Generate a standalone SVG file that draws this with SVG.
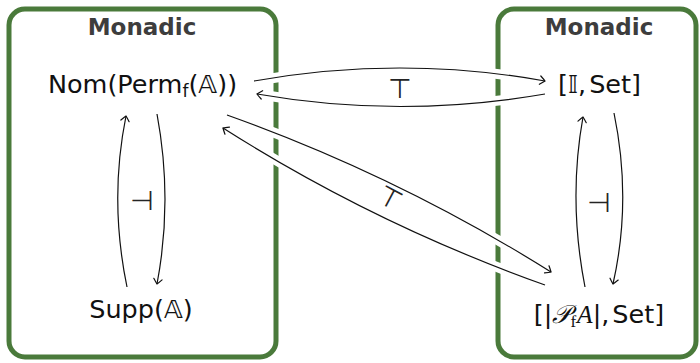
<svg xmlns="http://www.w3.org/2000/svg" width="700" height="363" viewBox="0 0 700 363">
<defs>
<style>
.box{fill:none;stroke:#4a7a3b;stroke-width:5}
.title{font-family:"DejaVu Sans",sans-serif;font-weight:bold;font-size:23px;fill:#3d3d3d;text-anchor:middle}
.lbl{font-family:"DejaVu Sans","Liberation Sans",sans-serif;font-size:25.5px;fill:#111;text-anchor:middle}
.sym{font-family:"DejaVu Sans",sans-serif;font-size:27px;fill:#222;text-anchor:middle;dominant-baseline:central;opacity:0.99}
.halo{fill:none;stroke:#fff;stroke-width:10}
.arr{fill:none;stroke:#111;stroke-width:1.2}
.head{marker-end:url(#to)}
</style>
<marker id="to" markerWidth="12" markerHeight="12" refX="0" refY="0" viewBox="-7 -6 9 12" orient="auto" markerUnits="userSpaceOnUse">
<path d="M -5,-4.2 Q -1.2,-1.2 0,0 Q -1.2,1.2 -5,4.2" fill="none" stroke="#111" stroke-width="1.2" stroke-linecap="round"/>
</marker>
</defs>

<g id="monadic-left">
<rect class="box" x="9" y="9" width="267" height="348" rx="16"/>
<text class="title" x="142" y="35">Monadic</text>
</g>
<g id="monadic-right">
<rect class="box" x="498" y="9" width="198" height="348" rx="16"/>
<text class="title" x="599" y="35">Monadic</text>
</g>

<g id="connectors">
<path class="halo" d="M 254,81 Q 400,55 545,81"/>
<path class="halo" d="M 545,94 Q 400,119 257,94"/>
<path class="halo" d="M 227,115 Q 398,176 551,272"/>
<path class="halo" d="M 545,285 Q 374,224 223,128"/>
<path class="halo" d="M 127,287 Q 109,200 126,116"/>
<path class="halo" d="M 157,114 Q 173,200 157,284"/>
<path class="halo" d="M 585,287 Q 568,200 583,117"/>
<path class="halo" d="M 614,113 Q 632,200 613,284"/>

<path class="arr head" d="M 254,81 Q 400,55 545,81"/>
<path class="arr head" d="M 545,94 Q 400,119 257,94"/>
<path class="arr head" d="M 227,115 Q 398,176 551,272"/>
<path class="arr head" d="M 545,285 Q 374,224 223,128"/>
<path class="arr head" d="M 127,287 Q 109,200 126,116"/>
<path class="arr head" d="M 157,114 Q 173,200 157,284"/>
<path class="arr head" d="M 585,287 Q 568,200 583,117"/>
<path class="arr head" d="M 614,113 Q 632,200 613,284"/>

<text class="sym" x="400" y="88">⊤</text>
<text class="sym" x="390" y="198" transform="rotate(28 390 198)">⊤</text>
<text class="sym" x="142" y="200">⊣</text>
<text class="sym" x="599" y="202">⊣</text>
</g>

<g id="nom">
<text class="lbl" x="142.5" y="93">Nom(Perm<tspan font-size="17" dy="4">f</tspan><tspan dy="-4">(𝔸))</tspan></text>
</g>
<g id="functors-I">
<text class="lbl" x="599.5" y="93">[𝕀,<tspan dx="3">Set]</tspan></text>
</g>
<g id="supp">
<text class="lbl" x="141" y="318">Supp(𝔸)</text>
</g>
<g id="functors-PfA">
<text class="lbl" x="599" y="323">[|<tspan font-family="Liberation Serif, serif" font-style="italic">𝒫</tspan><tspan font-family="Liberation Serif, serif" font-size="17" dy="4">f</tspan><tspan font-family="Liberation Serif, serif" font-style="italic" dy="-4" dx="1">A</tspan>|,<tspan dx="3">Set]</tspan></text>
</g>
</svg>
